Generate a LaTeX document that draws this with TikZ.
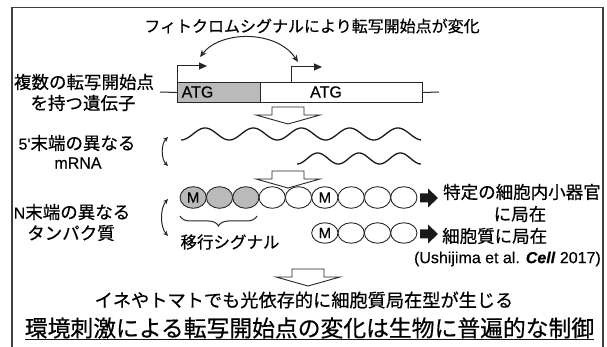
\documentclass[tikz,border=0pt]{standalone}
\usepackage{fontspec}
\setmainfont{Noto Sans CJK JP}[FakeBold=0.5]
\newfontfamily\lat{Liberation Sans}[FakeBold=0.3]
\usetikzlibrary{arrows.meta,decorations.pathreplacing,shapes.geometric}
\newcommand\fsz[1]{\fontsize{#1}{#1}\selectfont}
\begin{document}
\begin{tikzpicture}[x=1pt,y=-1pt,line join=miter,
  txt/.style={inner sep=0pt, font=\fsz{17.5}},
  ln/.style={line width=1pt, draw=black!85},
  wave/.style={line width=1.3pt, draw=black!90},
  cell/.style={ellipse, draw=black!85, line width=0.9pt, minimum width=26.3pt, minimum height=21.6pt, inner sep=0pt, fill=white},
  gcell/.style={cell, fill=black!27},
  cellb/.style={cell, minimum height=20.5pt},
  mlab/.style={inner sep=0pt, font=\lat\fsz{15}},
  exon/.style={draw=black!85, line width=1pt, minimum height=20pt, inner sep=0pt, anchor=north west},
  hollow/.style={draw=black!85, line width=0.9pt, fill=white},
  dtip/.style={{Stealth[length=5pt,width=4.5pt]}-{Stealth[length=5pt,width=4.5pt]}},
  downarrow/.pic={\draw[hollow] (-16,0) -- (16,0) -- (16,8) -- (32,8) -- (0,17) -- (-32,8) -- (-16,8) -- cycle;},
  bigarrow/.pic={\fill[black!90] (0,-4.5) -- (8,-4.5) -- (8,-9.5) -- (18,0) -- (8,9.5) -- (8,4.5) -- (0,4.5) -- cycle;}
]
\useasboundingbox (0,0) rectangle (607,347);
\draw[line width=1.5pt, black!75] (12,347) -- (12,7.5) -- (603,7.5) -- (603,347);

% title
\node[txt, font=\fsz{16}] (title) at (312,26) {フィトクロムシグナルにより転写開始点が変化};
\coordinate (s1) at (200,57);
\coordinate (s2) at (298,62);
\draw[ln, {Stealth[length=7pt,width=6pt]}-{Stealth[length=7pt,width=6pt]}] (s1) .. controls (221,30) and (277,30) .. (s2);

% gene
\node[txt] (g1) at (84,82) {複数の転写開始点};
\node[txt] (g2) at (83,103) {を持つ遺伝子};
\node[exon, fill=black!27, minimum width=83pt] (ex1) at (177,82) {};
\node[exon, fill=white, minimum width=162pt] (ex2) at (260,82) {};
\node[inner sep=0pt, font=\lat\fsz{16}] (atg1) at (197.5,92) {ATG};
\node[inner sep=0pt, font=\lat\fsz{16}] (atg2) at (326,92) {ATG};
\coordinate (gl) at (160,92);
\coordinate (gr) at (439,92);
\draw[ln] (gl) -- (ex1.west);
\draw[ln] (ex2.east) -- (gr);
\coordinate (p1) at (177,82);
\coordinate (p1e) at (207,66);
\coordinate (p2) at (291,82);
\coordinate (p2e) at (322,67);
\draw[ln, -{Triangle[length=8pt,width=7pt]}] (p1) |- (p1e);
\draw[ln, -{Triangle[length=8pt,width=7pt]}] (p2) |- (p2e);

\pic at (288,107) {downarrow};

% mRNA
\node[txt] (r1) at (77,143) {{\lat\fsz{16}5'}末端の異なる};
\node[txt] (r2) at (78,163) {\lat\fsz{16}mRNA};
\coordinate (m1) at (168,137);
\coordinate (m2) at (168,166);
\draw[ln, dtip] (m1) .. controls (161,144) and (161,159) .. (m2);
\draw[wave] plot[domain=181:421, samples=220, smooth] (\x, {134+6*cos((\x-181)*7.4689)});
\draw[wave] plot[domain=297:421, samples=120, smooth] (\x, {158.5+5.5*cos((\x-297)*8.7104)});

\pic at (288,171) {downarrow};

% proteins
\node[txt] (n1) at (72,212) {{\lat\fsz{16}N}末端の異なる};
\node[txt] (n2) at (71,233) {タンパク質};
\coordinate (q1) at (168,199);
\coordinate (q2) at (168,236);
\draw[ln, dtip] (q1) .. controls (160,208) and (160,227) .. (q2);

\foreach \i in {1,2,3} \node[gcell] (a\i) at ({193.2+26.33*(\i-1)},197.5) {};
\foreach \i in {4,...,9} \node[cell] (a\i) at ({193.2+26.33*(\i-1)},197.5) {};
\foreach \i in {6,...,9} \node[cellb] (b\i) at ({193.2+26.33*(\i-1)},233) {};
\node[mlab] (ma1) at (a1) {M};
\node[mlab] (ma6) at (a6) {M};
\node[mlab] (mb6) at (b6) {M};

\pic at (420,198) {bigarrow};
\pic at (420,234) {bigarrow};

\node[txt, anchor=west] (loc1) at (443,192) {特定の細胞内小器官};
\node[txt] (loc1b) at (520,214) {に局在};
\node[txt, anchor=west] (loc2) at (442,236) {細胞質に局在};

\coordinate (br1) at (180,216);
\coordinate (br2) at (257,216);
\draw[ln, decorate, decoration={brace, mirror, amplitude=10pt}] (br1) -- (br2);
\node[txt, font=\fsz{16.5}] (sig) at (230,242) {移行シグナル};

\node[inner sep=0pt, font=\lat\fsz{16}, anchor=east] (cite) at (601,259) {(Ushijima et al. \textbf{\textit{Cell}} 2017)};

% conclusion
\pic at (308,269) {downarrow};
\node[txt, font=\fsz{18.2}] (conc1) at (304,300) {イネやトマトでも光依存的に細胞質局在型が生じる};
\node[txt, font=\fsz{22.8}] (conc2) at (309.5,328) {環境刺激による転写開始点の変化は生物に普遍的な制御};
\coordinate (u1) at (25,339.5);
\coordinate (u2) at (594,339.5);
\draw[line width=1.4pt, black!90] (u1) -- (u2);
\end{tikzpicture}
\end{document}
